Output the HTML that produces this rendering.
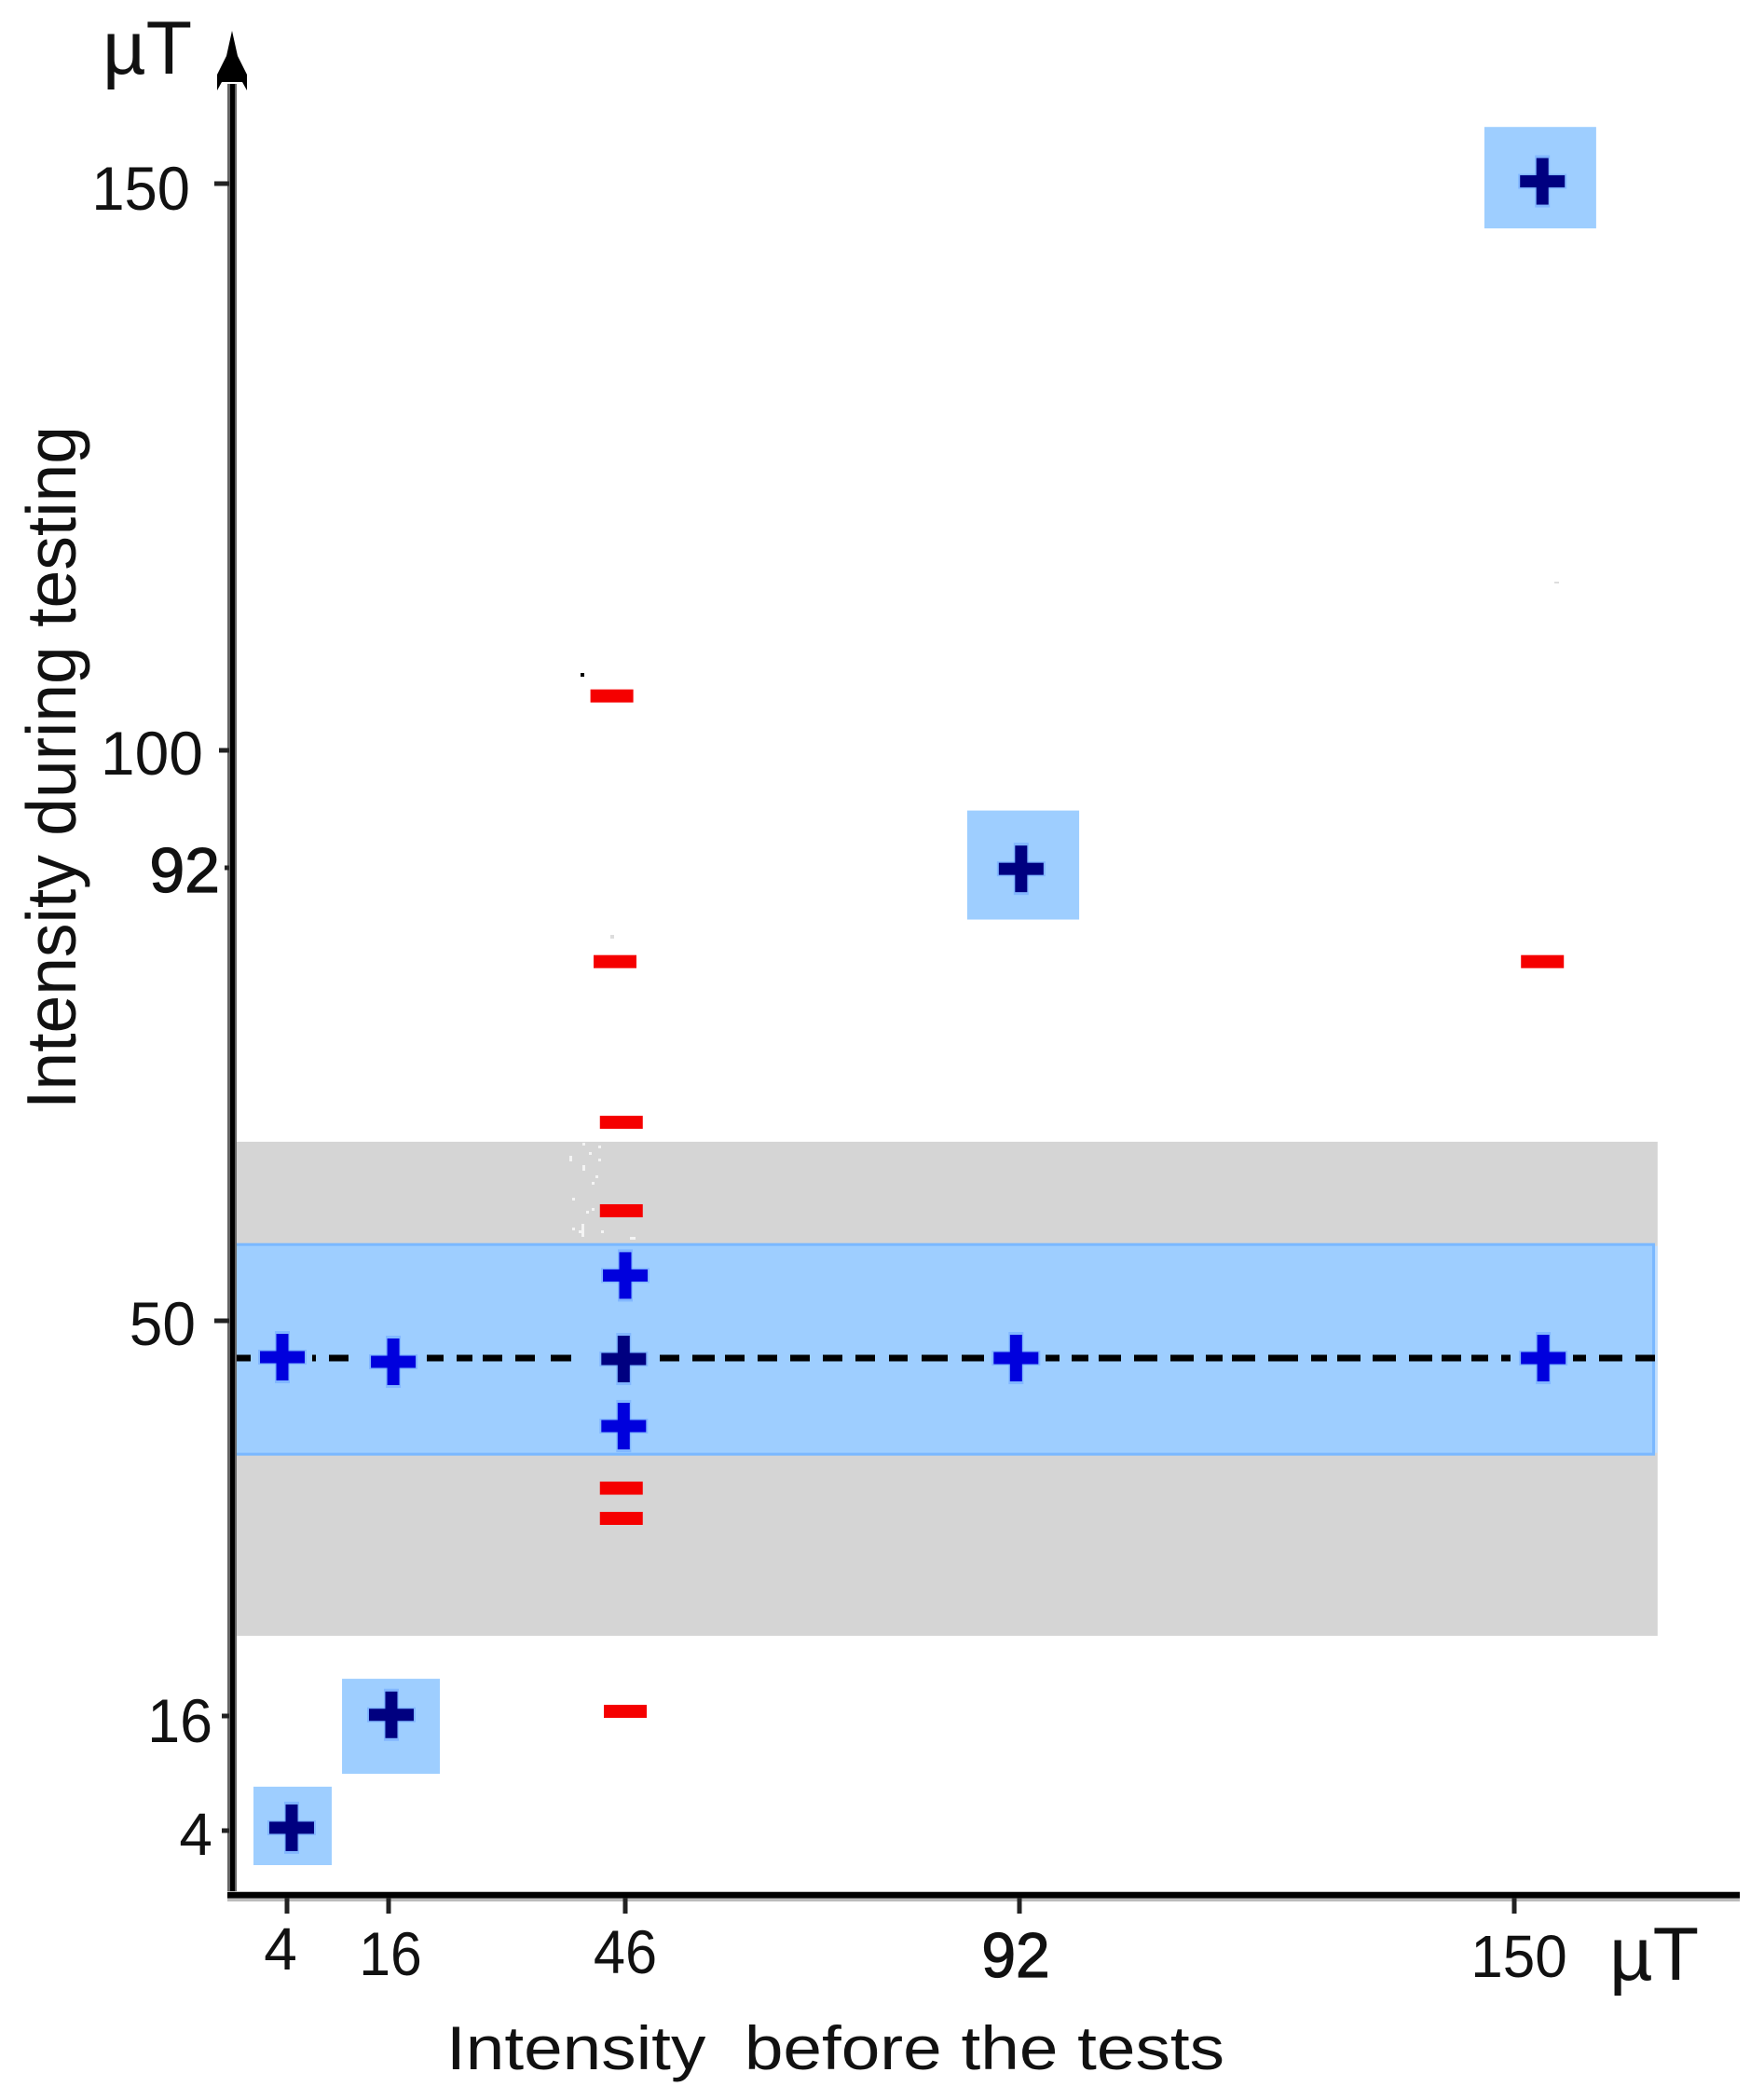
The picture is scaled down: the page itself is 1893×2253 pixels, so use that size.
<!DOCTYPE html>
<html lang="en">
<head>
<meta charset="utf-8">
<title>Intensity during testing vs intensity before the tests</title>
<style>
html,body{margin:0;padding:0;background:#fff;}
svg{display:block;font-family:"Liberation Sans",Arial,sans-serif;}
text{fill:#111;white-space:pre;}
</style>
</head>
<body>
<svg id="chart" xmlns="http://www.w3.org/2000/svg" width="1893" height="2253" viewBox="0 0 1893 2253">
  <rect x="0" y="0" width="1893" height="2253" fill="#ffffff"/>
  <g id="bands"></g>
  <path fill="#f4f4f4" d="M625 1226h3v3h-3zM642 1229h3v3h-3zM632 1236h3v3h-3zM611 1240h3v6h-3zM642 1243h3v3h-3zM625 1250h3v6h-3zM639 1261h3v3h-3zM635 1268h3v3h-3zM614 1285h3v3h-3zM635 1296h3v3h-3zM629 1299h3v3h-3zM614 1317h3v3h-3zM624 1313h3v14h-3zM621 1320h3v3h-3zM645 1320h3v3h-3zM676 1327h6v3h-6z"/>
  <rect x="623" y="722" width="4" height="4" fill="#000"/>
  <rect x="655" y="1003" width="4" height="4" fill="#ddd"/>
  <rect x="1668" y="624" width="5" height="2" fill="#ddd"/>
  <g id="highlights"></g>
  <g id="refline"></g>
  <g id="axes">
    <rect x="244" y="90" width="10" height="1945" fill="#666"/>
    <rect x="247" y="90" width="5" height="1946" fill="#000"/>
    <rect x="244" y="2029" width="1623" height="11" fill="#bbb"/>
    <rect x="244" y="2030" width="1623" height="6.5" fill="#000"/>
    <polygon fill="#000" points="249,33 255,60 265,80 265,97 260,88 238,88 233,97 233,80 243,60"/>
  </g>
  <g id="ticks"></g>
  <g id="marks"></g>
  <text x="110" y="79" font-size="81" fill="#000">µT</text>
  <text x="1727" y="2124" font-size="81" fill="#000">µT</text>
  <text transform="translate(81,1190) rotate(-90)" font-size="75" textLength="733" lengthAdjust="spacingAndGlyphs">Intensity during testing</text>
  <text x="479" y="2220" font-size="66" textLength="835" lengthAdjust="spacingAndGlyphs">Intensity  before the tests</text>
</svg>
<script>
// Axis calibration (the original axis is hand-spaced, so scales are piecewise)
const xDomain = [4, 16, 46, 92, 150];
const xRangePx = [308, 417, 671, 1094, 1625];
const yDomain = [4, 16, 50, 92, 100, 150];
const yRangePx = [1964, 1841, 1417, 931, 805, 197];

// Tick values
const xTickValues = [4, 16, 46, 92, 150];
const yTickValues = [4, 16, 50, 92, 100, 150];

// Blue "+" responses inside the band
const bandPlusX = [3.45, 16.6, 46, 45.8, 91.6, 153.4];
const bandPlusY = [46.87, 46.47, 54.2, 40.94, 46.79, 46.79];

// Navy "+" responses (same intensity before and during testing)
const matchPlusX = [4.55, 16.35, 45.8, 92.2, 153.3];
const matchPlusY = [4.3, 16.1, 46.71, 91.9, 150.2];

// Red "-" responses
const minusX = [44.3, 44.7, 153.3, 45.5, 45.5, 45.5, 45.5, 46];
const minusY = [104.8, 83.3, 83.3, 68.4, 60.2, 35.6, 33.0, 16.4];

// Light blue boxes round the matching intensities
const boxXMin = [0.04, 10.5, 85.9, 146.5];
const boxXMax = [9.28, 22.5, 99, 159.6];
const boxYMin = [0.39, 9.95, 87.2, 146.05];
const boxYMax = [8.6, 19.2, 95.9, 155];

// Bands and reference level
const greyBandY = [22.9, 66.6];
const blueBandY = [38.4, 57.2];
const bandXExtent = [-1.95, 166.8];
const blueBandXEnd = [166.5];
const referenceLevel = [46.79];

// Label typography, keyed by tick label
const xLabelStyle = {4:{dx:-7,size:64,base:2113,sx:1},16:{dx:2,size:66,base:2119,sx:0.92},46:{dx:0,size:66,base:2117,sx:0.93},92:{dx:-4,size:68,base:2121,bold:1,sx:0.97},150:{dx:5,size:64,base:2121,sx:0.97}};
const yLabelStyle = {4:{end:228,size:64,dy:26,tick:238,sx:1},16:{end:228,size:66,dy:28,tick:238,sx:0.95},50:{end:210,size:66,dy:26,tick:230,sx:0.97},92:{end:236,size:68,dy:26,tick:241,bold:1,sx:1},100:{end:218,size:66,dy:26,tick:235,sx:1},150:{end:204,size:66,dy:28,tick:230,sx:0.96}};

const NS = 'http://www.w3.org/2000/svg';
function poly(domain, range, v) {
  let i = 0;
  while (i < domain.length - 2 && v > domain[i + 1]) i++;
  return range[i] + (v - domain[i]) * (range[i + 1] - range[i]) / (domain[i + 1] - domain[i]);
}
function xScale(v) { return poly(xDomain, xRangePx, v); }
function yScale(v) { return poly(yDomain, yRangePx, v); }
function make(parent, tag, attrs) {
  const el = document.createElementNS(NS, tag);
  for (const k in attrs) el.setAttribute(k, attrs[k]);
  parent.appendChild(el);
  return el;
}
function rectBetween(parent, x0, x1, y0, y1, fill) {
  return make(parent, 'rect', {x: Math.min(x0, x1), y: Math.min(y0, y1), width: Math.abs(x1 - x0), height: Math.abs(y1 - y0), fill: fill});
}
function fitDigits(el, label, size, sx) {
  el.setAttribute('textLength', String(label).length * 0.556 * size * sx);
  el.setAttribute('lengthAdjust', 'spacingAndGlyphs');
}
function drawPlus(parent, cx, cy, color) {
  const g = make(parent, 'g', {});
  const halo = '#5f9bff';
  const a = make(g, 'rect', {x: cx - 26, y: cy - 8, width: 52, height: 16, fill: halo, 'fill-opacity': 0.45});
  
  
  const b = make(g, 'rect', {x: cx - 8, y: cy - 28, width: 16, height: 56, fill: halo, 'fill-opacity': 0.45});
  
  
  const c = make(g, 'rect', {x: cx - 24, y: cy - 6.5, width: 48, height: 13, fill: color});
  
  
  const d = make(g, 'rect', {x: cx - 6.5, y: cy - 25, width: 13, height: 50, fill: color});
  
  
  return g;
}

// Bands
const bands = document.getElementById('bands');
const grey = rectBetween(bands, xScale(bandXExtent[0]), xScale(bandXExtent[1]), yScale(greyBandY[0]), yScale(greyBandY[1]), '#d5d5d5');


const blueStrip = rectBetween(bands, xScale(blueBandXEnd[0]), xScale(bandXExtent[1]), yScale(blueBandY[0]) - 3, yScale(blueBandY[1]) + 3, '#c2dfff');


const blueEdge = rectBetween(bands, xScale(bandXExtent[0]), xScale(blueBandXEnd[0]), yScale(blueBandY[0]), yScale(blueBandY[1]), '#7ab8ff');


const blue = rectBetween(bands, xScale(bandXExtent[0]), xScale(blueBandXEnd[0]) - 3, yScale(blueBandY[0]) - 3, yScale(blueBandY[1]) + 3, '#9eceff');



// Highlight boxes
const highlights = document.getElementById('highlights');
boxXMin.forEach(function (v, i) {
  const box = rectBetween(highlights, xScale(boxXMin[i]), xScale(boxXMax[i]), yScale(boxYMin[i]), yScale(boxYMax[i]), '#9eceff');
  
  
});

// Dashed reference line (irregular dashes as in the original)
const refGroup = document.getElementById('refline');
const refY = yScale(referenceLevel[0]);
const ref = make(refGroup, 'line', {
  x1: 251, x2: 1776, y1: refY, y2: refY, stroke: '#000', 'stroke-width': 7,
  'stroke-dasharray': '18 66 4 14 21 84 18 14 17 11 21 14 21 17 22 95 21 14 24 11 21 14 21 14 21 14 21 14 21 15 20 15 28 15 24 66 15 13 18 11 24 14 25 14 25 13 18 10 25 14 32 14 17 11 25 13 25 14 25 10 21 11 18 14 10 67 14 14 25 14 21 400'
});



// Ticks and tick labels
const ticks = document.getElementById('ticks');
xTickValues.forEach(function (v) {
  const s = xLabelStyle[v] || {dx: 0, size: 66, base: 2119, sx: 0.93};
  const x = xScale(v);
  const t = make(ticks, 'rect', {x: x - 2.5, y: 2036, width: 5, height: 17, fill: '#222'});
  
  
  const l = make(ticks, 'text', {x: x + s.dx, y: s.base, 'font-size': s.size, 'text-anchor': 'middle'});
  l.textContent = String(v);
  fitDigits(l, v, s.size, s.sx);
  if (s.bold) { l.setAttribute('stroke', '#111'); l.setAttribute('stroke-width', '1.2'); }
  
  
});
yTickValues.forEach(function (v) {
  const s = yLabelStyle[v] || {end: 229, size: 66, dy: 26, tick: 232, sx: 0.93};
  const y = yScale(v);
  const t = make(ticks, 'rect', {x: s.tick, y: y - 2.5, width: 246 - s.tick, height: 5, fill: '#222'});
  
  
  const l = make(ticks, 'text', {x: s.end, y: y + s.dy, 'font-size': s.size, 'text-anchor': 'end'});
  l.textContent = String(v);
  fitDigits(l, v, s.size, s.sx);
  if (s.bold) { l.setAttribute('stroke', '#111'); l.setAttribute('stroke-width', '1.2'); }
  
  
});

// Marks
const marks = document.getElementById('marks');
minusX.forEach(function (v, i) {
  const cx = xScale(minusX[i]);
  const cy = yScale(minusY[i]);
  const m = make(marks, 'rect', {x: cx - 23, y: cy - 7, width: 46, height: 14, fill: '#f50000'});
  
  
});
bandPlusX.forEach(function (v, i) {
  const p = drawPlus(marks, xScale(bandPlusX[i]), yScale(bandPlusY[i]), '#0000dd');
  
  
});
matchPlusX.forEach(function (v, i) {
  const p = drawPlus(marks, xScale(matchPlusX[i]), yScale(matchPlusY[i]), '#000080');
  
  
});
</script>
</body>
</html>
